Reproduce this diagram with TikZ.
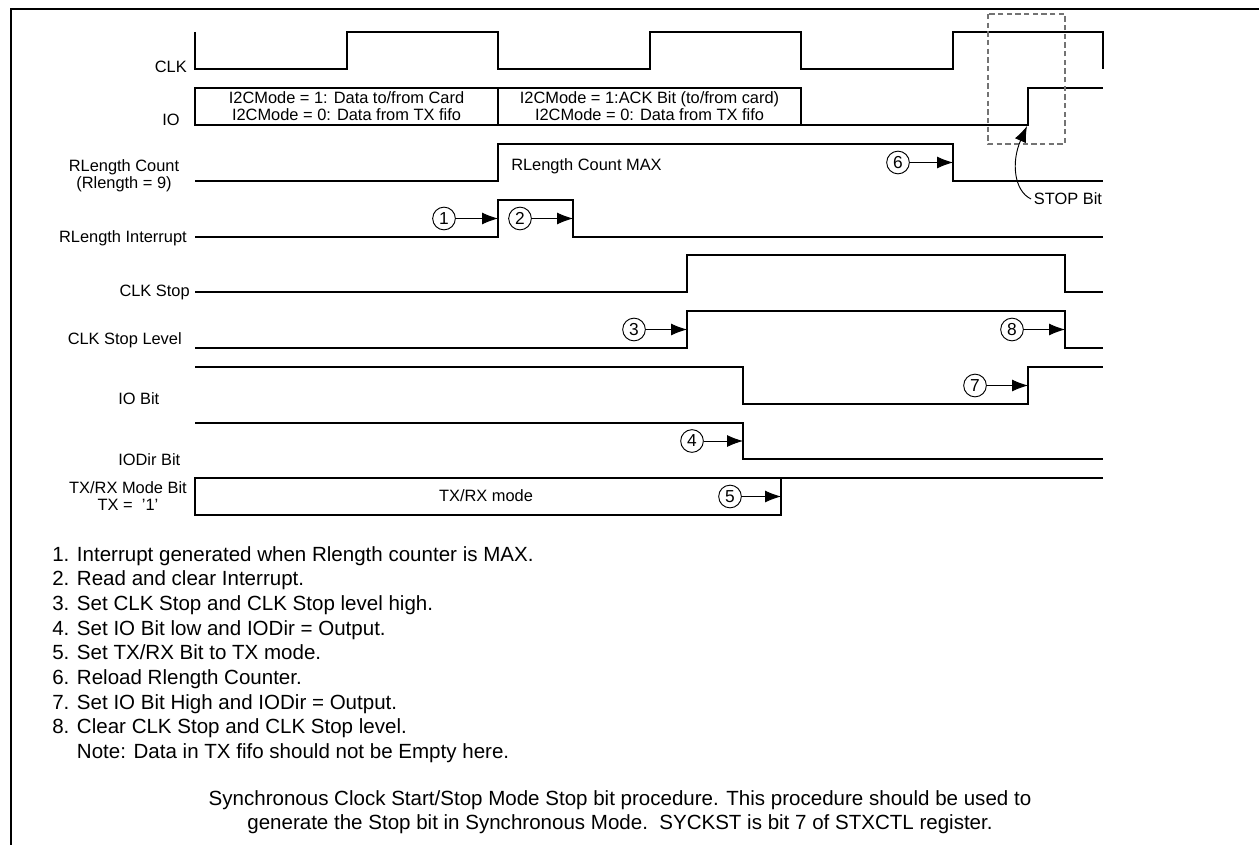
\documentclass[tikz,border=0pt]{standalone}
\usepackage{fontspec}
\setmainfont{Liberation Sans}
\usetikzlibrary{arrows.meta,positioning,calc}
\tikzset{
    wave/.style={draw, line width=0.95pt, line join=miter},
    sig/.style={font=\fontsize{12.3}{12.6}\selectfont, align=center, inner sep=0pt},
    boxtext/.style={font=\fontsize{12.3}{12.6}\selectfont, align=center, inner sep=0pt},
    num/.style={circle, draw, line width=0.7pt, minimum size=17pt, inner sep=0pt, font=\fontsize{13}{13}\selectfont},
    line/.style={draw, -{Latex[length=12pt,width=9pt]}, line width=0.7pt},
    stopbox/.style={draw=black!55, dash pattern=on 4pt off 2.5pt, line width=0.8pt},
    notes/.style={font=\fontsize{15.4}{18.5}\selectfont, inner sep=0pt}
}
\begin{document}
\begin{tikzpicture}[x=0.75pt, y=-0.75pt]
    \useasboundingbox (0,0) rectangle (1259,845);
    \draw [line width=2.2pt] (11,845) -- (11,9) -- (1259,9);

    \node [sig, anchor=east] (lclk) at (187,67) {CLK};
    \node [sig, anchor=east] (lio) at (180,120) {IO};
    \node [sig] (lrlen) at (124,176) {RLength Count\\(Rlength = 9)};
    \node [sig, anchor=east] (lint) at (187,238) {RLength Interrupt};
    \node [sig, anchor=east] (lcstop) at (190,292) {CLK Stop};
    \node [sig, anchor=east] (lcslevel) at (182,340) {CLK Stop Level};
    \node [sig, anchor=west] (liobit) at (118,399) {IO Bit};
    \node [sig, anchor=west] (liodir) at (118,460) {IODir Bit};
    \node [sig] (ltxrx) at (128,496) {TX/RX Mode Bit\\TX = \ '1'};

    \path [wave] (195,32) -- (195,69) -- (347,69) -- (347,32) -- (498,32) -- (498,69) -- (650,69) -- (650,32)
        -- (801,32) -- (801,69) -- (953,69) -- (953,32) -- (1103,32) -- (1103,69);
    \path [wave] (195,88) rectangle (498,125);
    \path [wave] (498,88) rectangle (801,125);
    \path [wave] (801,125) -- (1028,125) -- (1028,88) -- (1103,88);
    \path [wave] (195,181) -- (498,181) -- (498,144) -- (953,144) -- (953,181) -- (1103,181);
    \path [wave] (195,237) -- (498,237) -- (498,200) -- (573,200) -- (573,237) -- (1103,237);
    \path [wave] (195,292) -- (687,292) -- (687,255) -- (1065,255) -- (1065,292) -- (1103,292);
    \path [wave] (195,348) -- (687,348) -- (687,311) -- (1065,311) -- (1065,348) -- (1103,348);
    \path [wave] (195,367) -- (743,367) -- (743,404) -- (1028,404) -- (1028,367) -- (1103,367);
    \path [wave] (195,423) -- (743,423) -- (743,459) -- (1103,459);
    \path [wave] (195,478) rectangle (781,515);
    \path [wave] (781,478) -- (1103,478);

    \node [boxtext] (io1) at (346.5,106) {I2CMode = 1: Data to/from Card\\I2CMode = 0: Data from TX fifo};
    \node [boxtext] (io2) at (649.5,106) {I2CMode = 1:ACK Bit (to/from card)\\I2CMode = 0: Data from TX fifo};
    \node [boxtext, anchor=west] (rmax) at (511,166) {RLength Count MAX};
    \node [boxtext] (txmode) at (486,496) {TX/RX mode};

    \path [stopbox] (988,14) rectangle (1065,144);
    \node [boxtext] (stop) at (1068,199) {STOP Bit};
    \coordinate (iorise) at (1027,126);
    \path [line] ([xshift=-2pt]stop.west) .. controls +(-17,-8) and +(-16,36) .. (iorise);

    \node [num] (n1) at (444,218.5) {1};
    \node [num] (n2) at (520,218.5) {2};
    \node [num] (n3) at (634,329.5) {3};
    \node [num] (n4) at (692,441) {4};
    \node [num] (n5) at (730,496.5) {5};
    \node [num] (n6) at (898,162.5) {6};
    \node [num] (n7) at (975,385.5) {7};
    \node [num] (n8) at (1012,329.5) {8};
    \coordinate (e1) at (498,218.5);
    \coordinate (e2) at (573,218.5);
    \coordinate (e3) at (687,329.5);
    \coordinate (e4) at (743,441);
    \coordinate (e5) at (781,496.5);
    \coordinate (e6) at (953,162.5);
    \coordinate (e7) at (1028,385.5);
    \coordinate (e8) at (1065,329.5);
    \path [line] (n1) -- (e1);
    \path [line] (n2) -- (e2);
    \path [line] (n3) -- (e3);
    \path [line] (n4) -- (e4);
    \path [line] (n5) -- (e5);
    \path [line] (n6) -- (e6);
    \path [line] (n7) -- (e7);
    \path [line] (n8) -- (e8);

    \node [notes, anchor=north west, align=left] (steps) at (52,546) {1. Interrupt generated when Rlength counter is MAX.\\
        2. Read and clear Interrupt.\\
        3. Set CLK Stop and CLK Stop level high.\\
        4. Set IO Bit low and IODir = Output.\\
        5. Set TX/RX Bit to TX mode.\\
        6. Reload Rlength Counter.\\
        7. Set IO Bit High and IODir = Output.\\
        8. Clear CLK Stop and CLK Stop level.\\
        \phantom{8. }Note: Data in TX fifo should not be Empty here.};
    \node [notes, anchor=north, align=center] (caption) at (620,790) {Synchronous Clock Start/Stop Mode Stop bit procedure. This procedure should be used to\\
        generate the Stop bit in Synchronous Mode.\ \ SYCKST is bit 7 of STXCTL register.};
\end{tikzpicture}
\end{document}
